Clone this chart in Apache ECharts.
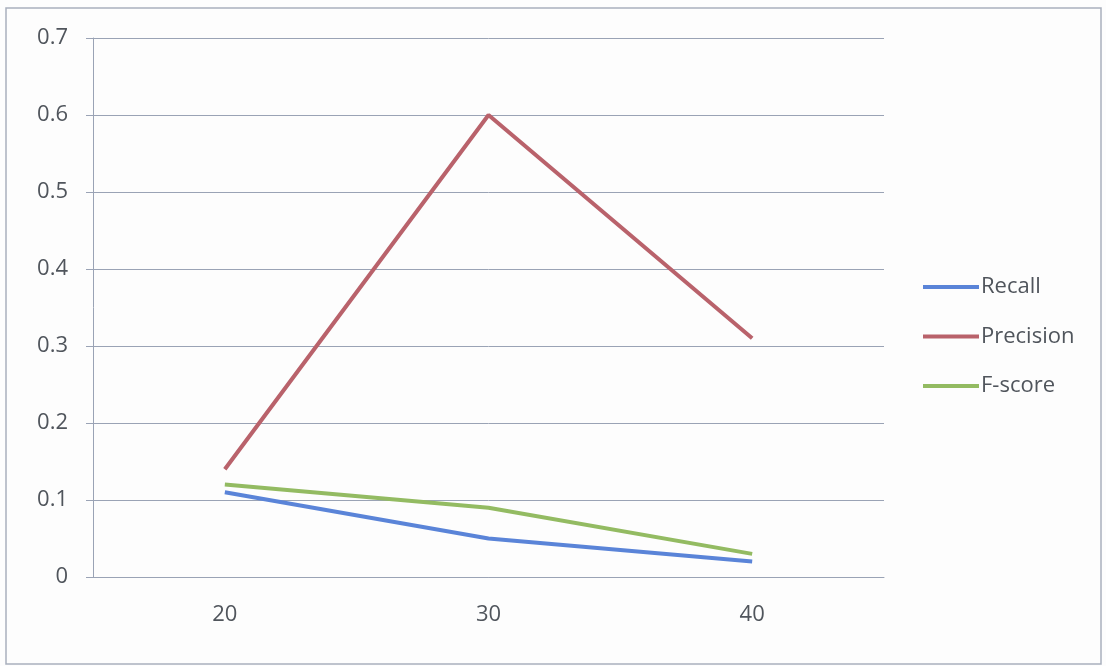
<!DOCTYPE html>
<html><head><meta charset="utf-8">
<script src="https://cdn.jsdelivr.net/npm/echarts@6/dist/echarts.min.js"></script>
<style>html,body{margin:0;padding:0;background:#fdfdfd}#c{width:1106px;height:666px}</style>
</head><body><div id="c"></div>
<script>
const categories = ['20', '30', '40'];
const recall = [0.11, 0.05, 0.02];
const precision = [0.14, 0.60, 0.31];
const fscore = [0.12, 0.09, 0.03];
const yTicks = [0, 0.1, 0.2, 0.3, 0.4, 0.5, 0.6, 0.7];

const chart = echarts.init(document.getElementById('c'));
const txt = '#50555c';
const gridC = '#9aa3b5';
function ser(name, data, color) {
  return {name, type: 'line', data, symbol: 'none', smooth: false,
    lineStyle: {width: 4, color}, itemStyle: {color}};
}
chart.setOption({
  backgroundColor: '#fdfdfd',
  animation: false,
  graphic: [{type: 'rect', shape: {x: 6, y: 8, width: 1095, height: 656},
    style: {fill: 'none', stroke: '#a9b0bd', lineWidth: 1.5}}],
  grid: {left: 93, right: 222, top: 38, bottom: 89},
  legend: {orient: 'vertical', left: 923, top: 275, padding: 0, itemGap: 25.5, itemWidth: 56, itemHeight: 4,
    icon: 'rect', textStyle: {fontSize: 22, lineHeight: 24, color: txt, fontFamily: 'Open Sans', padding: [0,0,0,-3]},
    data: ['Recall', 'Precision', 'F-score']},
  xAxis: {type: 'category', data: categories, boundaryGap: true,
    axisLine: {lineStyle: {color: gridC, width: 1}},
    axisTick: {length: 7, lineStyle: {color: gridC}},
    axisLabel: {fontSize: 22, color: txt, margin: 27, fontFamily: 'Open Sans'}},
  yAxis: {type: 'value', min: 0, max: 0.7, interval: 0.1,
    axisLine: {show: true, lineStyle: {color: gridC}},
    axisTick: {show: true, length: 7, lineStyle: {color: gridC}},
    splitLine: {lineStyle: {color: gridC, width: 1}},
    axisLabel: {fontSize: 22, color: txt, margin: 25, fontFamily: 'Open Sans',
      formatter: v => (yTicks.indexOf(+v.toFixed(1)) >= 0 ? (+v.toFixed(1)).toString() : '')}},
  series: [ser('Recall', recall, '#5a84d8'), ser('Precision', precision, '#b9626b'), ser('F-score', fscore, '#93bb62')]
});
</script></body></html>
